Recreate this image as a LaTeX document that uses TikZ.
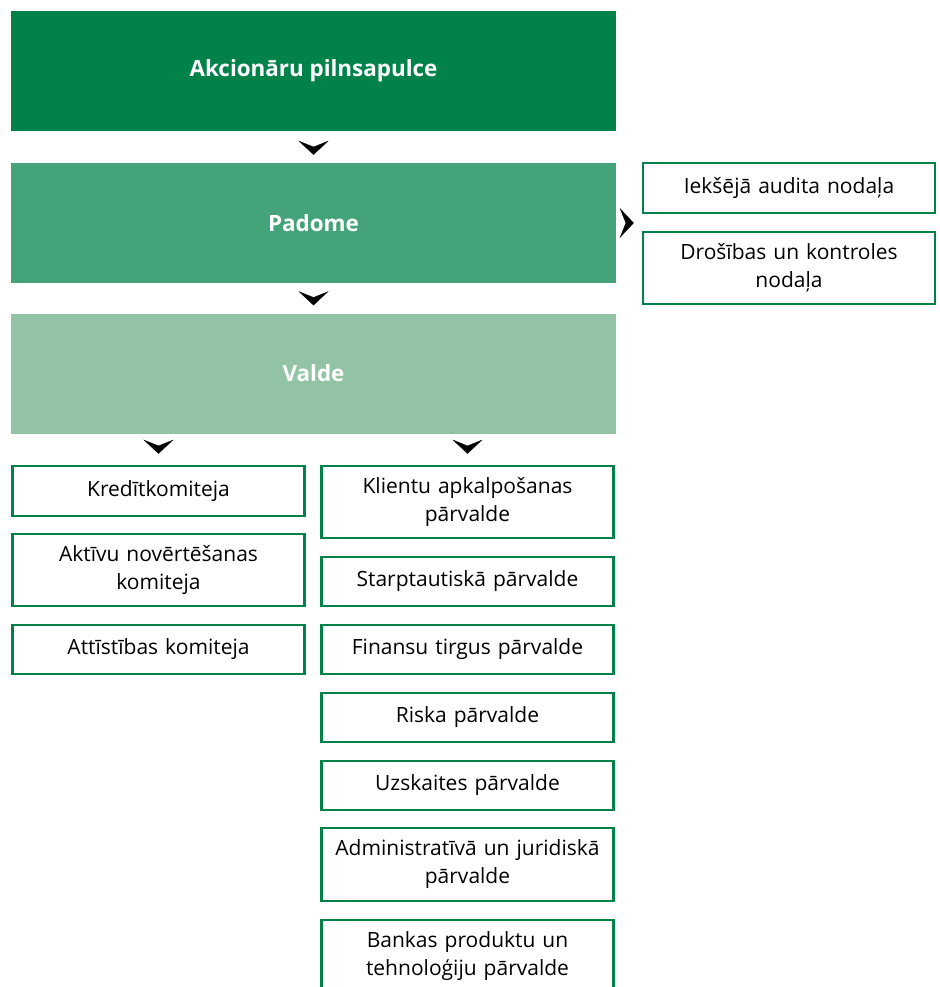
\documentclass[tikz,border=0pt]{standalone}
\usepackage{fontspec}
\setmainfont{Open Sans}
\usetikzlibrary{arrows.meta}

\definecolor{bankgreen}{RGB}{0,130,72}
\definecolor{midgreen}{RGB}{69,163,122}
\definecolor{palegreen}{RGB}{146,195,164}

\tikzset{
  headbox/.style={minimum width=605pt, minimum height=120pt, text=white,
    font=\fontsize{22.4}{28}\selectfont\bfseries, inner sep=0pt},
  unitbox/.style={draw=bankgreen, line width=2.6pt, fill=white,
    minimum width=292pt, text width=284pt, align=center, inner sep=2pt,
    font=\fontsize{21}{28}\selectfont},
  flow/.style={white, line width=0.2pt, shorten <=2pt,
    -{Stealth[black, length=14pt, width=30pt, inset=6pt]}},
}

\begin{document}
\begin{tikzpicture}[x=1pt, y=-1pt]
\useasboundingbox (0,0) rectangle (939,987);

\node[headbox, fill=bankgreen] (pil) at (313.5,71)    {Akcionāru pilnsapulce};
\node[headbox, fill=midgreen]  (pad) at (313.5,223)   {Padome};
\node[headbox, fill=palegreen] (val) at (313.5,373.5) {Valde};

% right of Padome
\node[unitbox, minimum height=50pt] (iek) at (789,188) {Iekšējā audita nodaļa};
\node[unitbox, minimum height=72pt] (dro) at (789,268) {Drošības un kontroles\\nodaļa};

% committees
\node[unitbox, minimum height=50pt] (kre) at (158.5,491)   {Kredītkomiteja};
\node[unitbox, minimum height=72pt] (akt) at (158.5,570)   {Aktīvu novērtēšanas\\komiteja};
\node[unitbox, minimum height=49pt] (att) at (158.5,649.5) {Attīstības komiteja};

% departments
\node[unitbox, minimum height=72pt] (kli) at (467.5,502)   {Klientu apkalpošanas\\pārvalde};
\node[unitbox, minimum height=49pt] (sta) at (467.5,581.5) {Starptautiskā pārvalde};
\node[unitbox, minimum height=49pt] (fin) at (467.5,649.5) {Finansu tirgus pārvalde};
\node[unitbox, minimum height=49pt] (ris) at (467.5,717.5) {Riska pārvalde};
\node[unitbox, minimum height=49pt] (uzs) at (467.5,785.5) {Uzskaites pārvalde};
\node[unitbox, minimum height=73pt] (adm) at (467.5,864.5) {Administratīvā un juridiskā\\pārvalde};
\node[unitbox, minimum height=72pt] (ban) at (467.5,956)   {Bankas produktu un\\tehnoloģiju pārvalde};

\draw[flow, shorten >=8pt] (pil) -- (pad);
\draw[flow, shorten >=8pt] (pad) -- (val);
\draw[flow, shorten >=8pt] (pad.east) -- (iek.west |- pad.east);
\draw[flow, shorten >=11pt] (kre.north |- val.south) -- (kre.north);
\draw[flow, shorten >=11pt] (kli.north |- val.south) -- (kli.north);
\end{tikzpicture}
\end{document}
